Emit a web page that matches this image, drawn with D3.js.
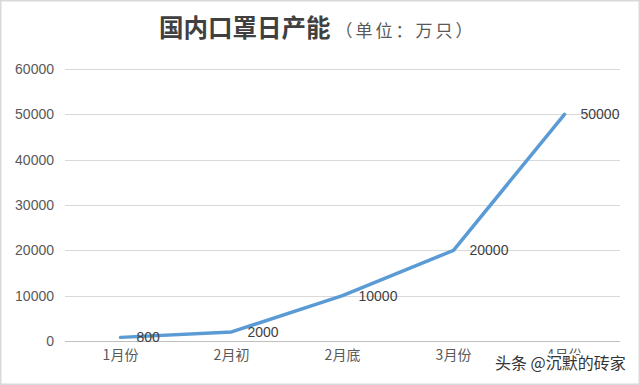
<!DOCTYPE html>
<html><head><meta charset="utf-8">
<script src="https://cdn.jsdelivr.net/npm/d3@7"></script>
<style>
html,body{margin:0;padding:0;background:#fff;}
svg{display:block;}
</style></head>
<body>
<svg id="chart" width="640" height="385"></svg>
<script>
const categories = ["1月份","2月初","2月底","3月份","4月份"];
const values = [800, 2000, 10000, 20000, 50000];
const yTicks = [0,10000,20000,30000,40000,50000,60000];
const titleMain = "国内口罩日产能";
const titleSub = "（单位：万只）";
const watermark = "头条 @沉默的砖家";

const svg = d3.select("#chart");
const W = 640, H = 385;
svg.append("rect").attr("x",0.5).attr("y",0.5).attr("width",W-1).attr("height",H-1)
  .attr("fill","#fff").attr("stroke","#d9d9d9").attr("stroke-width",2);

const x = d3.scaleBand().domain(categories).range([65,620]);
const y = d3.scaleLinear().domain([0,60000]).range([341,69]);

// gridlines
svg.append("g").selectAll("line").data(yTicks).join("line")
  .attr("x1",65).attr("x2",620)
  .attr("y1",d=>Math.round(y(d))+0.5).attr("y2",d=>Math.round(y(d))+0.5)
  .attr("stroke",d=>d===0?"#bfbfbf":"#d9d9d9").attr("stroke-width",1);

// y axis
const yAxis = d3.axisLeft(y).tickValues(yTicks).tickSize(0).tickPadding(0).tickFormat(d3.format("d"));
const gy = svg.append("g").attr("transform","translate(54,0)").call(yAxis);
gy.select(".domain").remove();
gy.selectAll("text").attr("font-family","Liberation Sans, Arial, sans-serif").attr("font-size",14).attr("fill","#595959");

// x axis
const xAxis = d3.axisBottom(x).tickSize(0).tickPadding(0);
const gx = svg.append("g").attr("transform","translate(0,350)").call(xAxis);
gx.select(".domain").remove();
gx.selectAll("text").attr("font-family","'Noto Sans CJK SC', sans-serif").attr("font-size",14).attr("fill","#595959");

// line
svg.append("path").datum(values)
  .attr("d", d3.line().x((d,i)=>x(categories[i])+x.bandwidth()/2).y(d=>y(d)))
  .attr("fill","none").attr("stroke","#5b9bd5").attr("stroke-width",3.5)
  .attr("stroke-linecap","round").attr("stroke-linejoin","round");

// data labels
svg.append("g").selectAll("text").data(values).join("text")
  .attr("x",(d,i)=>x(categories[i])+x.bandwidth()/2+16)
  .attr("y",d=>y(d)+5)
  .attr("font-family","Liberation Sans, Arial, sans-serif").attr("font-size",14).attr("fill","#404040")
  .text(d=>d);

// title
const t = svg.append("text").attr("x",159).attr("y",37);
t.append("tspan").text(titleMain).attr("font-family","'Noto Sans CJK SC', sans-serif").attr("font-weight","bold").attr("font-size",24.5).attr("fill","#404040");
t.append("tspan").text(titleSub).attr("font-family","'Noto Sans CJK SC', sans-serif").attr("font-size",17).attr("fill","#595959").attr("dx",5).attr("letter-spacing",3);

// watermark
svg.append("text").attr("x",495).attr("y",369).text(watermark)
  .attr("font-family","'Noto Sans CJK SC', sans-serif").attr("font-size",16)
  .attr("fill","#333").attr("stroke","#fff").attr("stroke-width",4).attr("paint-order","stroke");
</script>
</body></html>
